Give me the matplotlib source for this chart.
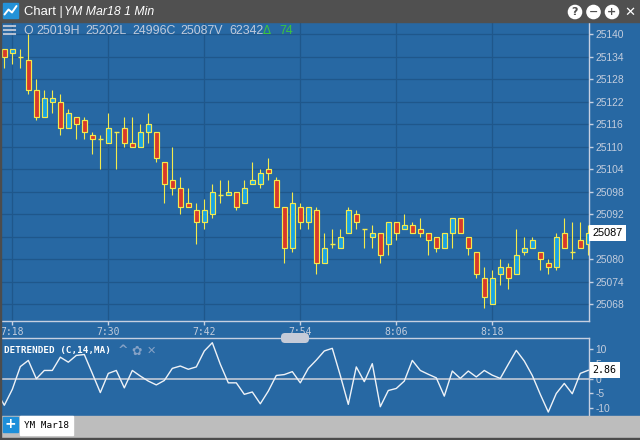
import matplotlib
matplotlib.use('Agg')
import matplotlib.pyplot as plt
from matplotlib.patches import Rectangle, Circle, FancyBboxPatch
import matplotlib.transforms as mtransforms
import numpy as np

# YM Mar18, 1 min bars from 7:17 to 8:30
opens = [25136, 25135, 25134, 25133, 25125, 25118, 25122, 25122, 25115, 25118,
         25117, 25113, 25112, 25111, 25114, 25115, 25111, 25110, 25114, 25114,
         25106, 25101, 25099, 25095, 25093, 25090, 25092, 25097, 25097, 25098,
         25095, 25100, 25100, 25104, 25101, 25094, 25083, 25094, 25090, 25093,
         25079, 25084, 25083, 25087, 25092, 25088, 25086, 25087, 25084, 25090,
         25088, 25089, 25088, 25087, 25086, 25083, 25087, 25091, 25086, 25082,
         25075, 25068, 25076, 25078, 25076, 25082, 25083, 25082, 25079, 25078,
         25087, 25082, 25085, 25084]
highs = [25136, 25136, 25136, 25140, 25128, 25125, 25125, 25124, 25120, 25118,
         25118, 25114, 25113, 25119, 25114, 25118, 25118, 25116, 25119, 25114,
         25106, 25110, 25102, 25099, 25095, 25096, 25100, 25101, 25101, 25098,
         25101, 25106, 25104, 25107, 25102, 25094, 25098, 25095, 25094, 25094,
         25087, 25088, 25088, 25094, 25093, 25088, 25089, 25087, 25090, 25090,
         25092, 25090, 25091, 25087, 25086, 25087, 25091, 25091, 25086, 25082,
         25078, 25077, 25080, 25079, 25088, 25086, 25086, 25082, 25080, 25087,
         25091, 25090, 25090, 25089]
lows = [25131, 25132, 25131, 25124, 25117, 25118, 25119, 25113, 25115, 25112,
        25112, 25108, 25104, 25111, 25104, 25110, 25110, 25110, 25111, 25106,
        25095, 25097, 25092, 25094, 25084, 25088, 25091, 25095, 25097, 25093,
        25095, 25100, 25099, 25101, 25094, 25079, 25082, 25088, 25088, 25076,
        25079, 25083, 25083, 25087, 25088, 25083, 25083, 25079, 25081, 25085,
        25088, 25087, 25086, 25081, 25082, 25083, 25083, 25087, 25081, 25075,
        25067, 25068, 25073, 25072, 25076, 25081, 25083, 25077, 25076, 25077,
        25083, 25080, 25083, 25081]
closes = [25134, 25136, 25134, 25125, 25118, 25123, 25123, 25115, 25119, 25116,
          25114, 25112, 25112, 25115, 25114, 25111, 25110, 25114, 25116, 25107,
          25100, 25099, 25094, 25094, 25090, 25093, 25098, 25097, 25098, 25094,
          25099, 25101, 25103, 25103, 25094, 25083, 25095, 25090, 25094, 25079,
          25083, 25084, 25086, 25093, 25090, 25088, 25087, 25081, 25090, 25087,
          25089, 25087, 25087, 25085, 25083, 25087, 25091, 25087, 25083, 25076,
          25070, 25075, 25078, 25075, 25081, 25083, 25085, 25080, 25078, 25086,
          25083, 25082, 25083, 25087]

# DETRENDED (C,14,MA), first value belongs to 7:16 (just off the left edge)
detrended = [-4.2, -9.0, -3.6, 4.1, 6.2, 0.0, 2.8, 2.8, 7.3, 5.6, 7.9, 8.2, 1.8,
             -4.7, 1.8, 2.8, -3.1, 2.8, 0.9, -0.8, -2.1, -0.6, 3.5, 4.3, 3.2, 4.0,
             9.4, 12.2, 4.9, -1.4, -1.4, -5.3, -4.5, -8.5, -4.2, 1.1, 1.4, 2.4,
             -1.4, 3.5, 6.3, 9.4, 10.3, 1.1, -8.7, 4.0, -1.0, 5.1, -9.5, -4.0,
             -3.3, -0.8, 6.2, 2.8, 1.5, 0.3, -5.9, 2.6, 0.1, 2.6, 0.6, 2.8, 1.2,
             0.1, 4.9, 9.6, 6.0, 1.1, -5.3, -11.3, -5.0, -1.6, -5.1, 1.8, 2.86]

xtick_pos = [1, 13, 25, 37, 49, 61]
xtick_labels = ['7:18', '7:30', '7:42', '7:54', '8:06', '8:18']
price_ticks = [25068, 25074, 25080, 25086, 25092, 25098, 25104, 25110,
               25116, 25122, 25128, 25134, 25140]
det_ticks = [-10, -5, 0, 5, 10]
header = ['O', '25019H', '25202L', '24996C', '25087V', '62342']
change = '74'

BG = '#2768a3'
GRID = '#1f578b'
AXIS = '#c6d0e1'
TXT = '#c3cddd'
UP = '#1aa3e2'
DOWN = '#d8392b'
WICK = '#f4ea4c'
SANS = 'Liberation Sans'
MONO = 'DejaVu Sans Mono'

W, H = 640, 440
fig = plt.figure(figsize=(6.4, 4.4), dpi=100, facecolor=BG)


def box(x0, y0, x1, y1):
    # pixel box (top-left origin) -> figure fraction rect
    return [x0 / W, 1 - y1 / H, (x1 - x0) / W, (y1 - y0) / H]


ax = fig.add_axes(box(0, 22, 589, 321))
lo = fig.add_axes(box(0, 338, 589, 416))
ui = fig.add_axes([0, 0, 1, 1], zorder=10)
ui.set_xlim(0, W)
ui.set_ylim(H, 0)
ui.axis('off')
ui.patch.set_visible(False)

# ---- price panel
o, h, l, c = (np.array(v, dtype=float) for v in (opens, highs, lows, closes))
x = np.arange(len(o))
up, dn, eq = c > o, c < o, c == o
ax.set_facecolor(BG)
ax.vlines(x, l, h, color=WICK, lw=0.8, zorder=2)
ax.bar(x[up], (c - o)[up], bottom=o[up], width=0.56, color=UP,
       edgecolor=WICK, linewidth=0.85, zorder=3)
ax.bar(x[dn], (o - c)[dn], bottom=c[dn], width=0.56, color=DOWN,
       edgecolor=WICK, linewidth=0.85, zorder=3)
ax.hlines(c[eq], x[eq] - 0.32, x[eq] + 0.32, color=WICK, lw=1.0, zorder=3)

ax.set_xlim(-0.54, 73.09)
ax.set_ylim(25063.47, 25143.2)
ax.set_xticks(xtick_pos)
ax.set_xticklabels(xtick_labels, family=MONO, fontsize=7)
ax.yaxis.tick_right()
ax.set_yticks(price_ticks)
ax.set_yticklabels([str(v) for v in price_ticks], family=SANS, fontsize=7.4)
ax.tick_params(colors=AXIS, labelcolor=TXT, length=3, width=1, pad=1.5)
ax.grid(True, color=GRID, lw=0.9)
ax.set_axisbelow(True)
for s in ('left', 'top'):
    ax.spines[s].set_visible(False)
for s in ('right', 'bottom'):
    ax.spines[s].set_color(AXIS)
    ax.spines[s].set_linewidth(1.0)

# last-price tag covers the tick label beneath it, as in the live chart
tr = mtransforms.blended_transform_factory(ax.transAxes, ax.transData)
ax.text(1.006, c[-1], str(int(c[-1])), transform=tr, ha='left', va='center',
        family=SANS, fontsize=7.8, color='black', zorder=6, clip_on=False,
        bbox=dict(boxstyle='square,pad=0.3', fc='white', ec='none'))

# ---- detrended panel
xd = np.arange(-1, len(detrended) - 1)
lo.set_facecolor(BG)
lo.axhline(0, color='#c2cad6', lw=1.2, zorder=1)
lo.plot(xd, detrended, color='#eef2f7', lw=1.0, zorder=2)
lo.set_xlim(ax.get_xlim())
lo.set_ylim(-12.64, 13.8)
lo.set_xticks([])
lo.yaxis.tick_right()
lo.set_yticks(det_ticks)
lo.set_yticklabels([str(v) for v in det_ticks], family=SANS, fontsize=7.4)
lo.tick_params(colors=AXIS, labelcolor=TXT, length=3, width=1, pad=1.5)
for s in ('left', 'bottom'):
    lo.spines[s].set_visible(False)
for s in ('right', 'top'):
    lo.spines[s].set_color(AXIS)
    lo.spines[s].set_linewidth(1.0)
trl = mtransforms.blended_transform_factory(lo.transAxes, lo.transData)
lo.text(1.006, detrended[-1], f'{detrended[-1]:.2f}', transform=trl, ha='left',
        va='center', family=MONO, fontsize=7.2, color='black', zorder=6,
        clip_on=False, bbox=dict(boxstyle='square,pad=0.3', fc='white', ec='none'))

# ---- window chrome
ui.add_patch(Rectangle((0, 0), W, 22, color='#505050'))
ui.add_patch(Rectangle((3, 3), 15, 15.5, color='#2392d8'))
ui.plot([4.5, 8.5, 12, 16.5], [14.5, 9.5, 12.5, 6], color='white', lw=1.4,
        solid_capstyle='round')
ui.text(24, 12, 'Chart |', family=SANS, fontsize=9.4, color='white', va='center')
ui.text(64, 12, 'YM Mar18 1 Min', family=SANS, fontsize=8.8, style='italic',
        color='white', va='center')
for cx, sym in ((575, '?'), (593.5, '−'), (612, '+')):
    ui.add_patch(Circle((cx, 12), 6.6, color='white'))
    ui.text(cx, 12.3, sym, family='DejaVu Sans', fontsize=8, weight='bold',
            color='#505050', ha='center', va='center')
ui.text(629.5, 12, '✕', family='DejaVu Sans', fontsize=9.5, weight='bold',
        color='white', ha='center', va='center')

# header row over the price panel
for yy in (26.5, 30.5, 34.5):
    ui.plot([4, 15], [yy, yy], color='#b4c0d2', lw=1.5)
for tx, tok in zip((23, 36.7, 85, 132.7, 180.7, 229), header):
    ui.text(tx, 30.5, tok, family=SANS, fontsize=8.9, color='#c0cadb', va='center')
ui.text(263, 30.5, 'Δ', family='DejaVu Sans', fontsize=8.5, color='#3cc43c', va='center')
ui.text(279, 30.5, change, family=SANS, fontsize=8.9, color='#3cc43c', va='center')

# scroll handle between the panels
ui.add_patch(FancyBboxPatch((281, 333), 28, 10, boxstyle='round,pad=0,rounding_size=4',
                            fc='#c5cbd8', ec='none'))

# study label
ui.text(4, 351, 'DETRENDED (C,14,MA)', family=MONO, weight='bold', fontsize=6.7,
        color='white', va='center')
ui.text(123, 351, '^', family='DejaVu Sans', weight='bold', fontsize=9,
        color='#86a2c6', ha='center', va='center')
ui.text(137, 351, '✿', family='DejaVu Sans', fontsize=9, color='#86a2c6',
        ha='center', va='center')
ui.text(151, 351, '✕', family='DejaVu Sans', weight='bold', fontsize=8,
        color='#86a2c6', ha='center', va='center')

# bottom bar with tab
ui.add_patch(Rectangle((0, 416), W, 24, color='#bdbdbd'))
ui.add_patch(Rectangle((0, 438), W, 2, color='#4c4c4c'))
ui.add_patch(Rectangle((0, 22), 1.2, 418, color='#4c4c4c'))
ui.add_patch(Rectangle((2.5, 417), 15, 15, color='#1e8fd9'))
ui.text(10, 424.5, '+', family='DejaVu Sans', weight='bold', fontsize=10,
        color='white', ha='center', va='center')
ui.add_patch(Rectangle((20, 416.5), 53, 19, color='white'))
ui.text(24, 426, 'YM Mar18', family=MONO, fontsize=6.7, color='black', va='center')

fig.savefig('out.png', dpi=100, facecolor=BG)
